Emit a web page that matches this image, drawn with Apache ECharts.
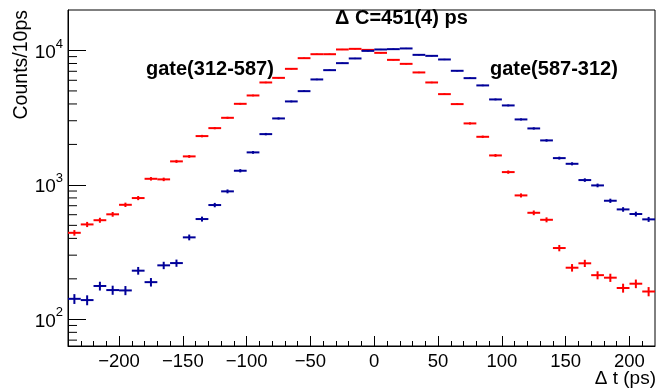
<!DOCTYPE html>
<html><head><meta charset="utf-8">
<script src="https://cdn.jsdelivr.net/npm/echarts@6/dist/echarts.min.js"></script>
<style>html,body{margin:0;padding:0;background:#fff}#c{width:669px;height:391px}</style>
</head><body><div id="c"></div>
<script>
// ---- data ----
const binCenters = [-235,-225,-215,-205,-195,-185,-175,-165,-155,-145,-135,-125,-115,-105,-95,-85,-75,-65,-55,-45,-35,-25,-15,-5,5,15,25,35,45,55,65,75,85,95,105,115,125,135,145,155,165,175,185,195,205,215];
const binWidth = 10;
const redCounts = [440,508,546,604,711,798,1110,1099,1496,1629,2307,2644,3155,4009,4626,5780,6254,7300,8765,9380,9380,10170,10280,10100,9600,8512,7950,6863,5780,4733,3990,2866,2279,1656,1245,835,620,550,339,242,261,213,204,171,184,161];
const blueCounts = [142,139,177,165,164,230,189,252,262,407,557,708,895,1274,1745,2386,3121,4177,4981,6087,7138,8047,8720,9930,10170,10230,10350,9276,9118,8570,7058,6224,5495,4322,3900,3069,2630,2142,1582,1435,1086,991,762,657,607,554];
const xMajorTicks = [-200,-150,-100,-50,0,50,100,150,200];
const xMinorTicks = [-230,-220,-210,-190,-180,-170,-160,-140,-130,-120,-110,-90,-80,-70,-60,-40,-30,-20,-10,10,20,30,40,60,70,80,90,110,120,130,140,160,170,180,190,210];
const yMinorTicks = [70,80,90,200,300,400,500,600,700,800,900,2000,3000,4000,5000,6000,7000,8000,9000];
const xMin = -240, xMax = 220, yMin = 63.3, yMax = 20000;

const FONT = 'Liberation Sans';
const chart = echarts.init(document.getElementById('c'), null, {renderer: 'canvas'});

function histSeries(name, counts, color) {
  return {
    type: 'custom', name: name, clip: true, silent: true,
    data: binCenters.map((c, i) => [c, counts[i], Math.sqrt(counts[i])]),
    encode: {x: 0, y: 1},
    renderItem: function (params, api) {
      const x = api.value(0), y = api.value(1), e = api.value(2);
      const l = api.coord([x - binWidth / 2, y]);
      const r = api.coord([x + binWidth / 2, y]);
      const t = api.coord([x, y + e]);
      const b = api.coord([x, y - e]);
      return {type: 'group', children: [
        {type: 'line', shape: {x1: l[0], y1: l[1], x2: r[0], y2: r[1]}, style: {stroke: color, lineWidth: 2}},
        {type: 'line', shape: {x1: t[0], y1: t[1], x2: b[0], y2: b[1]}, style: {stroke: color, lineWidth: 2}}
      ]};
    }
  };
}

const option = {
  animation: false,
  backgroundColor: '#fff',
  grid: {left: 68, right: 14, top: 10, bottom: 45, show: true, borderColor: '#000', borderWidth: 1, containLabel: false},
  xAxis: [{
    type: 'value', min: xMin, max: xMax, position: 'bottom',
    axisLine: {show: true, onZero: false, lineStyle: {color: '#000', width: 1}},
    axisTick: {show: true, inside: true, length: 10, customValues: xMajorTicks, lineStyle: {color: '#000', width: 1}},
    axisLabel: {customValues: xMajorTicks, color: '#000', fontFamily: FONT, fontSize: 18.5, margin: 6,
      formatter: v => String(v).replace('-', '\u2212')},
    splitLine: {show: false}
  }, {
    type: 'value', min: xMin, max: xMax, position: 'bottom',
    axisLine: {show: false, onZero: false},
    axisTick: {show: true, inside: true, length: 5, customValues: xMinorTicks, lineStyle: {color: '#000', width: 1}},
    axisLabel: {show: false},
    splitLine: {show: false}
  }],
  yAxis: {
    type: 'log', logBase: 10, min: yMin, max: yMax,
    axisLine: {show: true, onZero: false, lineStyle: {color: '#000', width: 1}},
    axisTick: {show: true, inside: true, length: 18, lineStyle: {color: '#000', width: 1}},
    axisLabel: {
      showMinLabel: false, showMaxLabel: false, margin: 5, color: '#000',
      formatter: function (v) {
        const n = Math.round(Math.log10(v));
        if (Math.abs(v / Math.pow(10, n) - 1) > 1e-6) return '';
        return '{b|10}{s|' + n + '}';
      },
      rich: {
        b: {fontFamily: FONT, fontSize: 19, color: '#000', lineHeight: 26, padding: [4, 0, 0, 0]},
        s: {fontFamily: FONT, fontSize: 13, color: '#000', verticalAlign: 'top', lineHeight: 14}
      }
    },
    splitLine: {show: false}
  },
  series: [
    {
      type: 'custom', name: 'yMinor', silent: true, clip: false,
      data: yMinorTicks.map(v => [xMin, v]),
      encode: {x: 0, y: 1},
      renderItem: function (params, api) {
        const p = api.coord([api.value(0), api.value(1)]);
        return {type: 'line', shape: {x1: p[0], y1: p[1], x2: p[0] + 9, y2: p[1]}, style: {stroke: '#000', lineWidth: 1}};
      }
    },
    histSeries('gate(312-587)', redCounts, '#ff0000'),
    histSeries('gate(587-312)', blueCounts, '#000099')
  ],
  graphic: [
    {type: 'text', left: 335, top: 8, style: {text: '\u0394 C=451(4) ps', fontFamily: FONT, fontWeight: 'bold', fontSize: 20, fill: '#000'}},
    {type: 'text', left: 146, top: 59, style: {text: 'gate(312-587)', fontFamily: FONT, fontWeight: 'bold', fontSize: 20, fill: '#000'}},
    {type: 'text', left: 490, top: 59, style: {text: 'gate(587-312)', fontFamily: FONT, fontWeight: 'bold', fontSize: 20, fill: '#000'}},
    {type: 'text', x: 22, y: 10, rotation: Math.PI / 2, style: {text: 'Counts/10ps', fontFamily: FONT, fontSize: 19.5, fill: '#000', align: 'right', verticalAlign: 'middle'}},
    {type: 'text', x: 656, y: 379, style: {text: '\u0394 t (ps)', fontFamily: FONT, fontSize: 19, fill: '#000', align: 'right', verticalAlign: 'middle'}}
  ]
};
chart.setOption(option);
</script>
</body></html>
